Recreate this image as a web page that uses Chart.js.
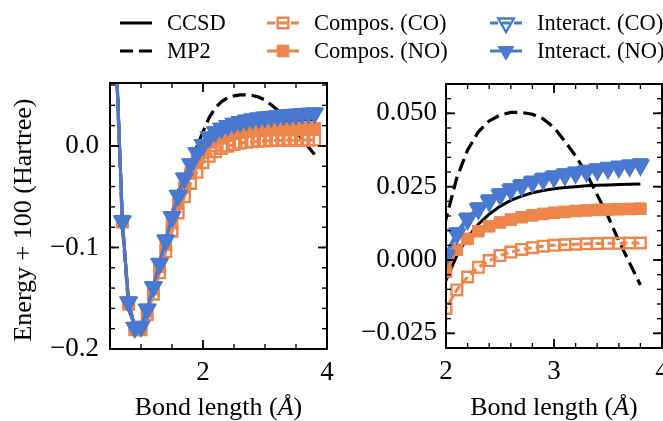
<!DOCTYPE html>
<html><head><meta charset="utf-8">
<script src="https://cdn.jsdelivr.net/npm/chart.js@4/dist/chart.umd.min.js"></script>
<style>
html,body{margin:0;padding:0;background:#fff;overflow:hidden;width:663px;height:421px;}
#wrap{position:relative;width:663px;height:421px;overflow:hidden;background:#fff;}
#c1{position:absolute;left:0;top:0;width:663px;height:421px;}
#c2{position:absolute;left:340px;top:0;width:350px;height:421px;}
</style></head><body>
<div id="wrap"><canvas id="c1" width="663" height="421"></canvas><canvas id="c2" width="350" height="421"></canvas></div>
<script>
// ---------------- data ----------------
const bondLength = [0.6,0.7,0.8,0.9,1.0,1.1,1.2,1.3,1.4,1.5,1.6,1.7,1.8,1.9,2.0,2.1,2.2,2.3,2.4,2.5,2.6,2.7,2.8,2.9,3.0,3.1,3.2,3.3,3.4,3.5,3.6,3.7,3.8];
const ccsd = [0.09,-0.074,-0.154,-0.179,-0.178,-0.162,-0.140,-0.117,-0.094,-0.073,-0.054,-0.039,-0.027,-0.016,-0.007,0.0015,0.0078,0.0122,0.0156,0.0183,0.0203,0.0218,0.0229,0.0237,0.0243,0.0247,0.0250,0.0253,0.0255,0.0256,0.0257,0.0258,0.0259];
const mp2 = [0.085,-0.079,-0.158,-0.181,-0.179,-0.162,-0.139,-0.115,-0.090,-0.066,-0.045,-0.029,-0.015,-0.001,0.014,0.028,0.0375,0.0437,0.0474,0.0494,0.0503,0.0503,0.0497,0.0481,0.0452,0.0405,0.0355,0.0295,0.0222,0.0149,0.0065,-0.0010,-0.0085];
const composCO = [0.08,-0.075,-0.156,-0.181,-0.181,-0.166,-0.146,-0.125,-0.104,-0.084,-0.066,-0.050,-0.037,-0.026,-0.0165,-0.0102,-0.0058,-0.0025,-0.0002,0.0015,0.0027,0.0036,0.0042,0.0047,0.0050,0.0052,0.0054,0.0055,0.0056,0.0057,0.0057,0.0058,0.0058];
const composNO = [0.082,-0.074,-0.155,-0.180,-0.179,-0.163,-0.141,-0.119,-0.097,-0.076,-0.057,-0.041,-0.027,-0.015,-0.004,0.0035,0.0072,0.0098,0.0115,0.0128,0.0138,0.0146,0.0152,0.0157,0.0161,0.0164,0.0167,0.0169,0.0171,0.0172,0.0173,0.0174,0.0175];
const interactCO = [0.083,-0.074,-0.154,-0.179,-0.178,-0.161,-0.139,-0.116,-0.093,-0.070,-0.049,-0.032,-0.018,-0.007,0.0012,0.0088,0.0138,0.0173,0.0200,0.0221,0.0238,0.0252,0.0264,0.0274,0.0282,0.0289,0.0295,0.0301,0.0306,0.0311,0.0315,0.0319,0.0323];
const interactNO = [0.085,-0.073,-0.153,-0.178,-0.177,-0.160,-0.138,-0.115,-0.092,-0.069,-0.048,-0.031,-0.017,-0.006,0.002,0.0095,0.0145,0.018,0.0207,0.0228,0.0245,0.0259,0.0271,0.0281,0.0289,0.0296,0.0302,0.0308,0.0313,0.0318,0.0322,0.0326,0.0330];
const seriesLabels = ['CCSD','MP2','Compos. (CO)','Compos. (NO)','Interact. (CO)','Interact. (NO)'];
const seriesValues = [ccsd, mp2, composCO, composNO, interactCO, interactNO];
const leftXTicks = [2, 4];
const leftYTicks = [-0.2, -0.1, 0.0];
const rightXTicks = [2, 3, 4];
const rightYTicks = [-0.025, 0.0, 0.025, 0.050];
const xTitle = ['Bond length (', 'Å', ')'];
const yTitle = 'Energy + 100 (Hartree)';

// ---------------- styles ----------------
const ORANGE = '#EE854A', BLUE = '#4878D0';
const FONT = '"Liberation Serif", "Times New Roman", serif';
const TICK_SIZE = 27, TITLE_SIZE = 26, LEGEND_SIZE = 22.5;
const styles = [
  {color:'#000', dash:[], width:3, point:null},
  {color:'#000', dash:[13,6], width:3.2, point:null},
  {color:ORANGE, dash:[8,4], width:3, point:'rect', filled:false, r:7.5},
  {color:ORANGE, dash:[], width:3, point:'rect', filled:true, r:8.2},
  {color:BLUE, dash:[8,4], width:3, point:'triangle', filled:false, r:9},
  {color:BLUE, dash:[], width:3, point:'triangle', filled:true, r:9},
];

function makeDatasets() {
  return seriesLabels.map((label, i) => {
    const s = styles[i];
    return {
      label,
      data: bondLength.map((x, k) => ({x, y: seriesValues[i][k]})),
      borderColor: s.color,
      backgroundColor: s.color,
      borderWidth: s.width,
      borderDash: s.dash,
      tension: 0,
      fill: false,
      clip: 0,
      order: seriesLabels.length - i,
      pointStyle: s.point || 'circle',
      pointRadius: s.point ? s.r : 0,
      pointHoverRadius: s.point ? s.r : 0,
      pointRotation: s.point === 'triangle' ? 180 : 0,
      pointBorderColor: s.color,
      pointBackgroundColor: s.point && s.filled ? s.color : 'rgba(0,0,0,0)',
      pointBorderWidth: s.filled ? 1 : 2.4,
      _style: s
    };
  });
}

const fmtFixed = d => v => (v < -1e-12 ? '\u2212' : '') + Math.abs(v).toFixed(d);

function axis(min, max, ticksArr, fmt, isY, size, pad) {
  return {
    type: 'linear', min, max,
    grid: {display: false, drawTicks: false},
    border: {display: false},
    afterBuildTicks: s => { s.ticks = ticksArr.map(v => ({value: v})); },
    afterFit: s => { if (isY) s.width = size; else s.height = size; },
    ticks: {padding: pad, color: '#000', autoSkip: false, maxRotation: 0,
      font: {family: FONT, size: TICK_SIZE}, callback: v => fmt(v)}
  };
}

function range(min, max, step) {
  const out = [];
  const n0 = Math.ceil(min / step - 1e-9), n1 = Math.floor(max / step + 1e-9);
  for (let n = n0; n <= n1; n++) out.push(n * step);
  return out;
}

const framePlugin = {
  id: 'frame',
  afterDatasetsDraw(chart, args, o) {
    const {ctx, chartArea: a} = chart;
    const xs = chart.scales.x, ys = chart.scales.y;
    ctx.save();
    ctx.strokeStyle = '#000';
    ctx.lineCap = 'butt';
    const seg = (x1, y1, x2, y2) => { ctx.beginPath(); ctx.moveTo(x1, y1); ctx.lineTo(x2, y2); ctx.stroke(); };
    const drawX = (vals, len) => vals.forEach(v => { const p = xs.getPixelForValue(v);
      if (p < a.left - 0.5 || p > a.right + 0.5) return; seg(p, a.bottom, p, a.bottom - len); seg(p, a.top, p, a.top + len); });
    const drawY = (vals, len) => vals.forEach(v => { const p = ys.getPixelForValue(v);
      if (p < a.top - 0.5 || p > a.bottom + 0.5) return; seg(a.left, p, a.left + len, p); seg(a.right, p, a.right - len, p); });
    ctx.lineWidth = 1.4;
    drawX(range(xs.min, xs.max, o.xMinor), 5);
    drawY(range(ys.min, ys.max, o.yMinor), 5);
    ctx.lineWidth = 1.8;
    drawX(o.xMajor, 9);
    drawY(o.yMajor, 9);
    ctx.lineWidth = 2;
    ctx.strokeRect(a.left, a.top, a.right - a.left, a.bottom - a.top);
    // x axis title with italic Angstrom
    ctx.fillStyle = '#000';
    ctx.textBaseline = 'middle';
    const fN = `${TITLE_SIZE}px ${FONT}`, fI = `italic ${TITLE_SIZE}px ${FONT}`;
    ctx.font = fN; const w0 = ctx.measureText(xTitle[0]).width, w2 = ctx.measureText(xTitle[2]).width;
    ctx.font = fI; const w1 = ctx.measureText(xTitle[1]).width;
    let x = (a.left + a.right) / 2 - (w0 + w1 + w2) / 2;
    const y = a.bottom + o.xTitleOffset;
    ctx.textAlign = 'left';
    ctx.font = fN; ctx.fillText(xTitle[0], x, y); x += w0;
    ctx.font = fI; ctx.fillText(xTitle[1], x, y); x += w1;
    ctx.font = fN; ctx.fillText(xTitle[2], x, y);
    if (o.yTitleX) {
      ctx.save();
      ctx.translate(o.yTitleX, (a.top + a.bottom) / 2 + 4);
      ctx.rotate(-Math.PI / 2);
      ctx.textAlign = 'center';
      ctx.font = fN;
      ctx.fillText(yTitle, 0, 0);
      ctx.restore();
    }
    ctx.restore();
  }
};

function drawMarker(ctx, s, x, y) {
  ctx.beginPath();
  if (s.point === 'rect') {
    const h = s.r * Math.SQRT1_2;
    ctx.rect(x - h, y - h, 2 * h, 2 * h);
  } else {
    let rad = Math.PI;
    for (let k = 0; k < 3; k++) {
      const px = x + Math.sin(rad) * s.r, py = y - Math.cos(rad) * s.r;
      if (k === 0) ctx.moveTo(px, py); else ctx.lineTo(px, py);
      rad += 2 * Math.PI / 3;
    }
    ctx.closePath();
  }
  ctx.fillStyle = s.filled ? s.color : 'rgba(0,0,0,0)';
  ctx.strokeStyle = s.color;
  ctx.lineWidth = s.filled ? 1 : 2.4;
  ctx.setLineDash([]);
  ctx.fill(); ctx.stroke();
}

const legendPlugin = {
  id: 'figLegend',
  afterDraw(chart, args, o) {
    const ctx = chart.ctx;
    ctx.save();
    chart.data.datasets.forEach((ds, i) => {
      const s = ds._style;
      const col = Math.floor(i / 2), row = i % 2;
      const x0 = o.colX[col], y = o.rowY[row];
      ctx.strokeStyle = s.color;
      ctx.lineWidth = s.width;
      ctx.setLineDash(s.dash);
      ctx.beginPath(); ctx.moveTo(x0, y); ctx.lineTo(x0 + o.handle, y); ctx.stroke();
      if (s.point) drawMarker(ctx, s, x0 + o.handle / 2, y);
      ctx.setLineDash([]);
      ctx.fillStyle = '#000';
      ctx.font = `${LEGEND_SIZE}px ${FONT}`;
      ctx.textAlign = 'left'; ctx.textBaseline = 'middle';
      ctx.fillText(ds.label, x0 + o.textGap, y + 1);
    });
    ctx.restore();
  }
};

const common = {
  responsive: false, animation: false,
  events: [],
};

new Chart(document.getElementById('c1'), {
  type: 'line',
  data: {datasets: makeDatasets()},
  plugins: [framePlugin, legendPlugin],
  options: Object.assign({}, common, {
    layout: {padding: {left: 0, top: 83, right: 336, bottom: 0}},
    scales: {
      x: axis(0.5, 4, leftXTicks, fmtFixed(0), false, 72, 8),
      y: axis(-0.2, 0.062, leftYTicks, fmtFixed(1), true, 110, 11)
    },
    plugins: {
      legend: {display: false}, tooltip: {enabled: false},
      frame: {xMinor: 0.5, yMinor: 0.02, xMajor: leftXTicks, yMajor: leftYTicks, xTitleOffset: 59, yTitleX: 24},
      figLegend: {colX: [120, 267, 490], rowY: [23, 51], handle: 32, textGap: 47}
    }
  })
});

new Chart(document.getElementById('c2'), {
  type: 'line',
  data: {datasets: makeDatasets()},
  plugins: [framePlugin],
  options: Object.assign({}, common, {
    layout: {padding: {left: 0, top: 84, right: 28, bottom: 0}},
    scales: {
      x: axis(2, 4, rightXTicks, fmtFixed(0), false, 73, 8),
      y: axis(-0.03, 0.06, rightYTicks, fmtFixed(3), true, 106, 9)
    },
    plugins: {
      legend: {display: false}, tooltip: {enabled: false},
      frame: {xMinor: 0.2, yMinor: 0.005, xMajor: rightXTicks, yMajor: rightYTicks, xTitleOffset: 60}
    }
  })
});
</script>
</body></html>
